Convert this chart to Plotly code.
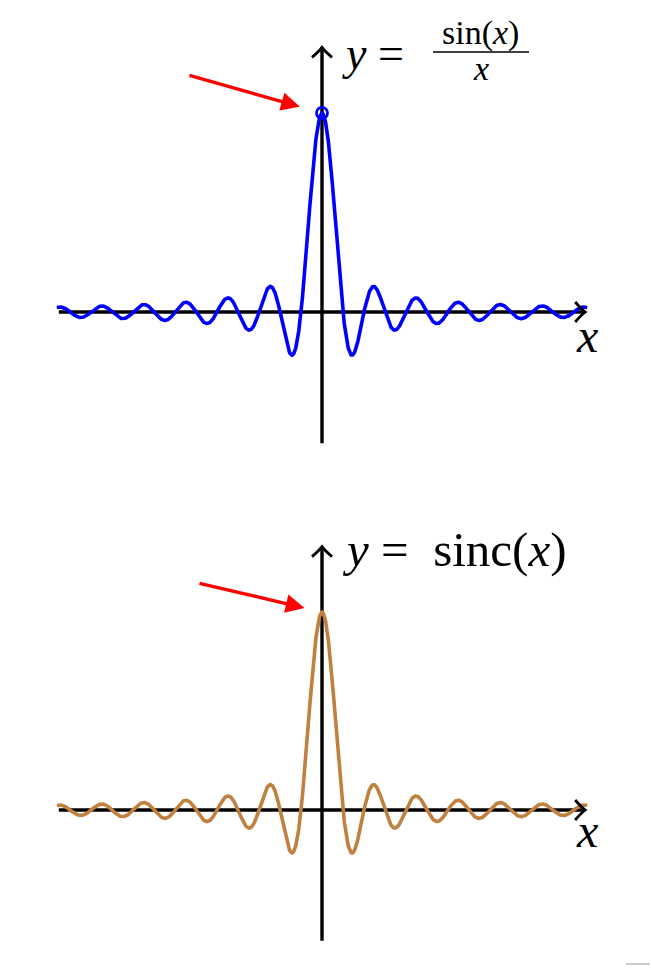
import numpy as np
import plotly.graph_objects as go

# ---- data ----
x_min, x_max = -39.7, 39.7          # plotted domain of the curves
n_samples = 2000                    # even -> x = 0 is not sampled
x_vals = np.linspace(x_min, x_max, n_samples)
y_vals = np.sin(x_vals) / x_vals    # y = sin(x)/x
peak_x = [0.0]
peak_y = [1.0]
axis_x = [-39.4, 39.4]
axis_y = [-0.66, 1.33]
top_formula = ["<i>y</i>&nbsp;=", "sin(<i>x</i>)", "<i>x</i>"]
bottom_formula = "<i>y</i>&nbsp;=&nbsp;&nbsp;sinc(<i>x</i>)"
x_label = "<i>x</i>"

W, H = 651, 968
BLUE = "#0000FF"
BROWN = "#BF8040"
RED = "#FF0000"
FONT = "Liberation Serif"

fig = go.Figure()

fig.add_trace(go.Scatter(x=x_vals, y=y_vals, mode="lines",
                         line=dict(color=BLUE, width=3.6),
                         xaxis="x", yaxis="y", hoverinfo="skip"))
fig.add_trace(go.Scatter(x=peak_x, y=peak_y, mode="markers",
                         marker=dict(symbol="circle-open", size=11, color=BLUE,
                                     line=dict(color=BLUE, width=2.8)),
                         xaxis="x", yaxis="y", hoverinfo="skip"))
fig.add_trace(go.Scatter(x=x_vals, y=y_vals, mode="lines",
                         line=dict(color=BROWN, width=3.6),
                         xaxis="x2", yaxis="y2", hoverinfo="skip"))

shapes = []
annotations = []

def px(p):
    return p / W

def py(p):
    return 1 - p / H

for xr, yr in (("x", "y"), ("x2", "y2")):
    shapes.append(dict(type="line", xref=xr, yref=yr, x0=axis_x[0], x1=axis_x[1],
                       y0=0, y1=0, line=dict(color="black", width=3.4), layer="below"))
    shapes.append(dict(type="line", xref=xr, yref=yr, x0=0, x1=0,
                       y0=axis_y[0], y1=axis_y[1], line=dict(color="black", width=3.4), layer="below"))
    shapes.append(dict(type="path", xref=xr, yref=yr, xsizemode="pixel", ysizemode="pixel",
                       xanchor=axis_x[1], yanchor=0,
                       path="M -10,10 Q -4,3 0,0 Q -4,-3 -10,-10",
                       line=dict(color="black", width=2.8)))
    shapes.append(dict(type="path", xref=xr, yref=yr, xsizemode="pixel", ysizemode="pixel",
                       xanchor=0, yanchor=axis_y[1],
                       path="M -10,-10 Q -3,-4 0,0 Q 3,-4 10,-10",
                       line=dict(color="black", width=2.8)))

annotations.append(dict(x=0, y=1, xref="x", yref="y", ax=-134, ay=-38,
                        showarrow=True, arrowhead=2, arrowsize=1.1, arrowwidth=3.4,
                        arrowcolor=RED, standoff=23, text=""))
annotations.append(dict(x=0, y=1, xref="x2", yref="y2", ax=-124, ay=-29,
                        showarrow=True, arrowhead=2, arrowsize=1.1, arrowwidth=3.4,
                        arrowcolor=RED, standoff=18, text=""))

for ly in (335, 830):
    annotations.append(dict(x=px(587), y=py(ly), xref="paper", yref="paper", text=x_label,
                            showarrow=False, font=dict(family=FONT, size=48, color="black"),
                            xanchor="center", yanchor="middle"))

annotations.append(dict(x=px(340), y=py(54), xref="paper", yref="paper", text=top_formula[0],
                        showarrow=False, font=dict(family=FONT, size=46, color="black"),
                        xanchor="left", yanchor="middle"))
annotations.append(dict(x=px(481), y=py(33), xref="paper", yref="paper", text=top_formula[1],
                        showarrow=False, font=dict(family=FONT, size=34, color="black"),
                        xanchor="center", yanchor="middle"))
annotations.append(dict(x=px(481), y=py(69), xref="paper", yref="paper", text=top_formula[2],
                        showarrow=False, font=dict(family=FONT, size=34, color="black"),
                        xanchor="center", yanchor="middle"))
shapes.append(dict(type="line", xref="paper", yref="paper", x0=px(433), x1=px(529),
                   y0=py(52), y1=py(52), line=dict(color="black", width=1.6)))

annotations.append(dict(x=px(340), y=py(549), xref="paper", yref="paper", text=bottom_formula,
                        showarrow=False, font=dict(family=FONT, size=49, color="black"),
                        xanchor="left", yanchor="middle"))

shapes.append(dict(type="line", xref="paper", yref="paper", x0=px(626), x1=px(650),
                   y0=py(964), y1=py(964), line=dict(color="#999999", width=1)))

xr_full = [-322 / 6.68, (W - 322) / 6.68]
fig.update_layout(
    width=W, height=H, margin=dict(l=0, r=0, t=0, b=0),
    paper_bgcolor="white", plot_bgcolor="white", showlegend=False,
    xaxis=dict(range=xr_full, visible=False, anchor="y", fixedrange=True),
    yaxis=dict(range=[-(484 - 312) / 199, 312 / 199], domain=[0.5, 1], visible=False, fixedrange=True),
    xaxis2=dict(range=xr_full, visible=False, anchor="y2", fixedrange=True),
    yaxis2=dict(range=[-(968 - 810) / 198, (810 - 484) / 198], domain=[0, 0.5], visible=False, fixedrange=True),
    shapes=shapes, annotations=annotations,
)

fig.write_html("out.html", config={"displayModeBar": False})
with open("out.html", "r", encoding="utf-8") as f:
    html = f.read()
html = html.replace("<body>", '<body style="margin:0;padding:0;overflow:hidden">', 1)
with open("out.html", "w", encoding="utf-8") as f:
    f.write(html)
